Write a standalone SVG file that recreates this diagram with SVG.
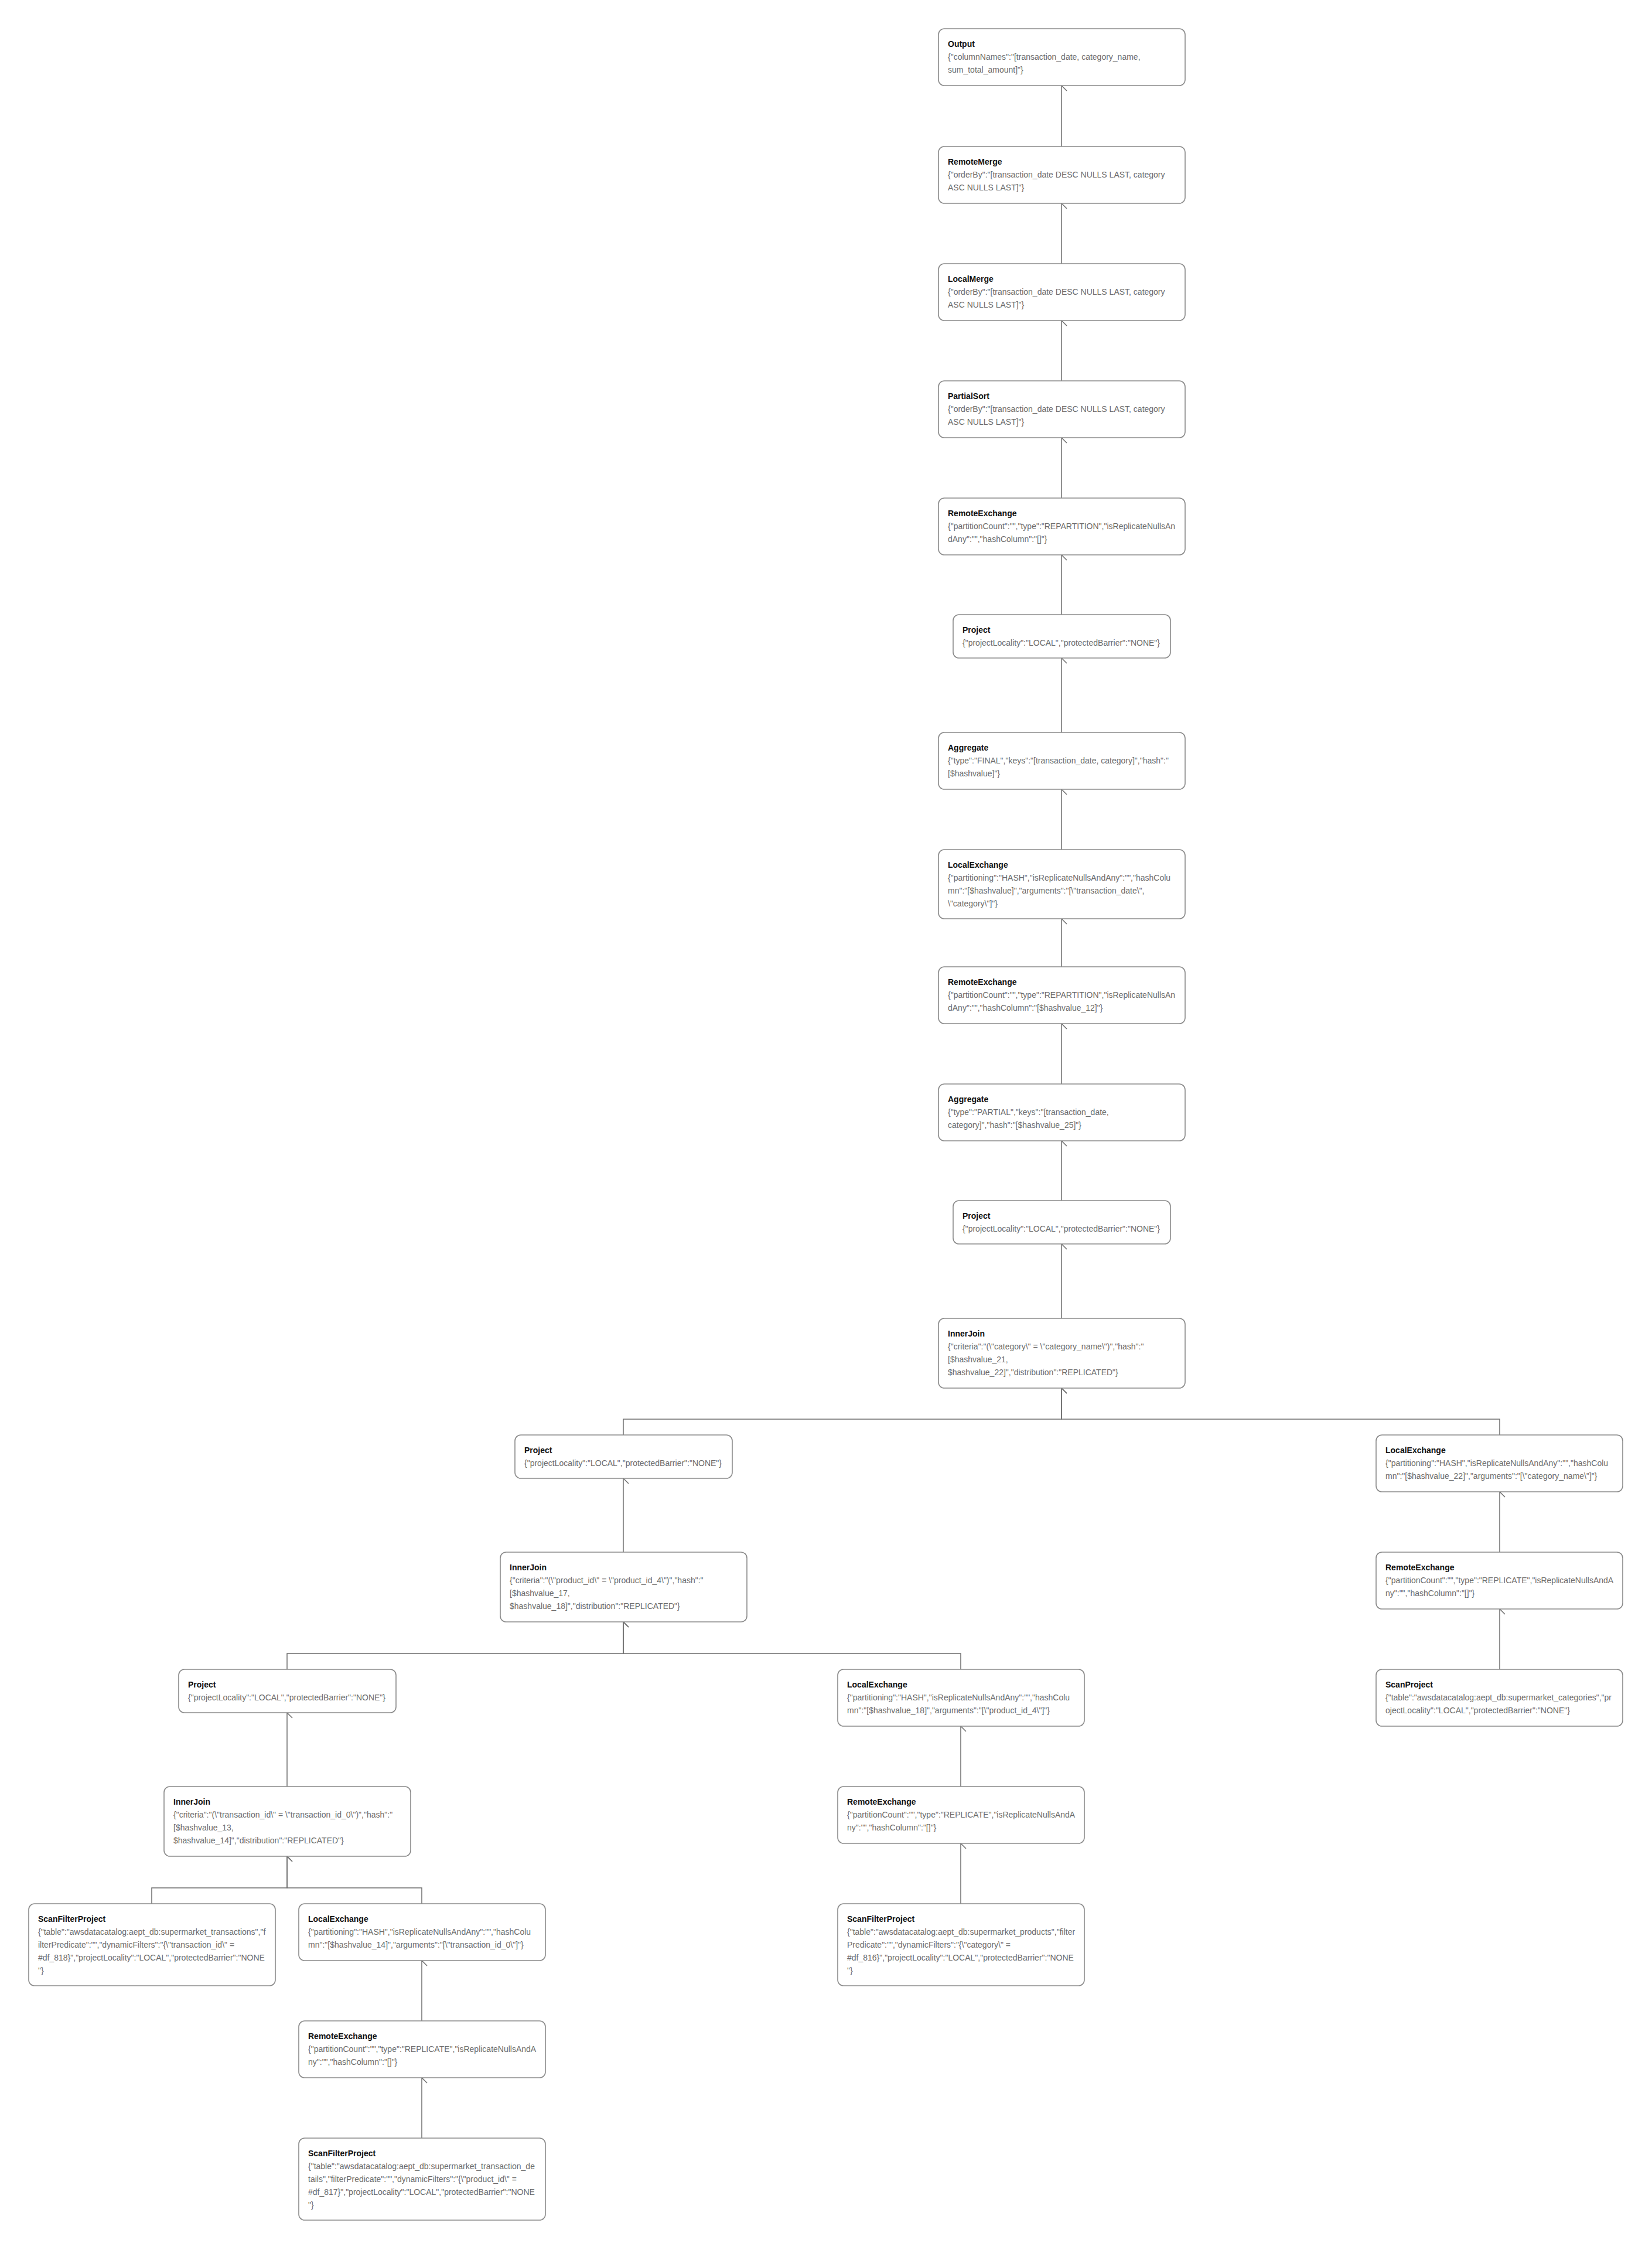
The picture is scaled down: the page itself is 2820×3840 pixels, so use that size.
<svg xmlns="http://www.w3.org/2000/svg" width="2820" height="3840" viewBox="0 0 2820 3840">
<style>
.box{fill:#fff;stroke:#8a8a8a;stroke-width:1.6}
.t{font-family:"Liberation Sans",Arial,sans-serif;font-size:14px;font-weight:bold;fill:#111}
.b{font-family:"Liberation Sans",Arial,sans-serif;font-size:14px;fill:#6b6b6b}
.e{fill:none;stroke:#6e6e6e;stroke-width:1.5}
</style>
<defs>
<marker id="ah" markerWidth="20" markerHeight="20" refX="10" refY="1" orient="auto" markerUnits="userSpaceOnUse" viewBox="0 0 20 20">
<path d="M1 10 L10 1 L19 10" fill="none" stroke="#6e6e6e" stroke-width="1.5"/>
</marker>
</defs>
<rect width="2820" height="3840" fill="#fff"/>
<g id="connectors" class="e" marker-end="url(#ah)">
<path d="M1812 250 V146" transform="rotate(0)"/>
<path d="M1812 450 V347"/>
<path d="M1812 650 V547"/>
<path d="M1812 850 V747"/>
<path d="M1812 1049 V947"/>
<path d="M1812 1250 V1123"/>
<path d="M1812 1450 V1347"/>
<path d="M1812 1650 V1568"/>
<path d="M1812 1850 V1747"/>
<path d="M1812 2049 V1947"/>
<path d="M1812 2250 V2123"/>
<path d="M1064 2449 V2422 H1812 V2369"/>
<path d="M2560 2449 V2422 H1812 V2369"/>
<path d="M1064 2649 V2523"/>
<path d="M2560 2649 V2546"/>
<path d="M2560 2849 V2746"/>
<path d="M490 2849 V2822 H1064 V2768"/>
<path d="M1640 2849 V2822 H1064 V2768"/>
<path d="M490 3049 V2923"/>
<path d="M1640 3049 V2946"/>
<path d="M259 3249 V3222 H490 V3168"/>
<path d="M720 3249 V3222 H490 V3168"/>
<path d="M1640 3249 V3146"/>
<path d="M720 3449 V3346"/>
<path d="M720 3649 V3546"/>
</g>
<g id="n0"><rect class="box" x="1602" y="49" width="421" height="97" rx="10"/><text class="t" x="1618" y="80">Output</text><text class="b" x="1618" y="102">{"columnNames":"[transaction_date, category_name,</text><text class="b" x="1618" y="124">sum_total_amount]"}</text></g>
<g id="n1"><rect class="box" x="1602" y="250" width="421" height="97" rx="10"/><text class="t" x="1618" y="281">RemoteMerge</text><text class="b" x="1618" y="303">{"orderBy":"[transaction_date DESC NULLS LAST, category</text><text class="b" x="1618" y="325">ASC NULLS LAST]"}</text></g>
<g id="n2"><rect class="box" x="1602" y="450" width="421" height="97" rx="10"/><text class="t" x="1618" y="481">LocalMerge</text><text class="b" x="1618" y="503">{"orderBy":"[transaction_date DESC NULLS LAST, category</text><text class="b" x="1618" y="525">ASC NULLS LAST]"}</text></g>
<g id="n3"><rect class="box" x="1602" y="650" width="421" height="97" rx="10"/><text class="t" x="1618" y="681">PartialSort</text><text class="b" x="1618" y="703">{"orderBy":"[transaction_date DESC NULLS LAST, category</text><text class="b" x="1618" y="725">ASC NULLS LAST]"}</text></g>
<g id="n4"><rect class="box" x="1602" y="850" width="421" height="97" rx="10"/><text class="t" x="1618" y="881">RemoteExchange</text><text class="b" x="1618" y="903">{"partitionCount":"","type":"REPARTITION","isReplicateNullsAn</text><text class="b" x="1618" y="925">dAny":"","hashColumn":"[]"}</text></g>
<g id="n5"><rect class="box" x="1627" y="1049" width="371" height="74" rx="10"/><text class="t" x="1643" y="1080">Project</text><text class="b" x="1643" y="1102">{"projectLocality":"LOCAL","protectedBarrier":"NONE"}</text></g>
<g id="n6"><rect class="box" x="1602" y="1250" width="421" height="97" rx="10"/><text class="t" x="1618" y="1281">Aggregate</text><text class="b" x="1618" y="1303">{"type":"FINAL","keys":"[transaction_date, category]","hash":"</text><text class="b" x="1618" y="1325">[$hashvalue]"}</text></g>
<g id="n7"><rect class="box" x="1602" y="1450" width="421" height="118" rx="10"/><text class="t" x="1618" y="1481">LocalExchange</text><text class="b" x="1618" y="1503">{"partitioning":"HASH","isReplicateNullsAndAny":"","hashColu</text><text class="b" x="1618" y="1525">mn":"[$hashvalue]","arguments":"[\"transaction_date\",</text><text class="b" x="1618" y="1547">\"category\"]"}</text></g>
<g id="n8"><rect class="box" x="1602" y="1650" width="421" height="97" rx="10"/><text class="t" x="1618" y="1681">RemoteExchange</text><text class="b" x="1618" y="1703">{"partitionCount":"","type":"REPARTITION","isReplicateNullsAn</text><text class="b" x="1618" y="1725">dAny":"","hashColumn":"[$hashvalue_12]"}</text></g>
<g id="n9"><rect class="box" x="1602" y="1850" width="421" height="97" rx="10"/><text class="t" x="1618" y="1881">Aggregate</text><text class="b" x="1618" y="1903">{"type":"PARTIAL","keys":"[transaction_date,</text><text class="b" x="1618" y="1925">category]","hash":"[$hashvalue_25]"}</text></g>
<g id="n10"><rect class="box" x="1627" y="2049" width="371" height="74" rx="10"/><text class="t" x="1643" y="2080">Project</text><text class="b" x="1643" y="2102">{"projectLocality":"LOCAL","protectedBarrier":"NONE"}</text></g>
<g id="n11"><rect class="box" x="1602" y="2250" width="421" height="119" rx="10"/><text class="t" x="1618" y="2281">InnerJoin</text><text class="b" x="1618" y="2303">{"criteria":"(\"category\" = \"category_name\")","hash":"</text><text class="b" x="1618" y="2325">[$hashvalue_21,</text><text class="b" x="1618" y="2347">$hashvalue_22]","distribution":"REPLICATED"}</text></g>
<g id="n12"><rect class="box" x="879" y="2449" width="371" height="74" rx="10"/><text class="t" x="895" y="2480">Project</text><text class="b" x="895" y="2502">{"projectLocality":"LOCAL","protectedBarrier":"NONE"}</text></g>
<g id="n13"><rect class="box" x="2349" y="2449" width="421" height="97" rx="10"/><text class="t" x="2365" y="2480">LocalExchange</text><text class="b" x="2365" y="2502">{"partitioning":"HASH","isReplicateNullsAndAny":"","hashColu</text><text class="b" x="2365" y="2524">mn":"[$hashvalue_22]","arguments":"[\"category_name\"]"}</text></g>
<g id="n14"><rect class="box" x="854" y="2649" width="421" height="119" rx="10"/><text class="t" x="870" y="2680">InnerJoin</text><text class="b" x="870" y="2702">{"criteria":"(\"product_id\" = \"product_id_4\")","hash":"</text><text class="b" x="870" y="2724">[$hashvalue_17,</text><text class="b" x="870" y="2746">$hashvalue_18]","distribution":"REPLICATED"}</text></g>
<g id="n15"><rect class="box" x="2349" y="2649" width="421" height="97" rx="10"/><text class="t" x="2365" y="2680">RemoteExchange</text><text class="b" x="2365" y="2702">{"partitionCount":"","type":"REPLICATE","isReplicateNullsAndA</text><text class="b" x="2365" y="2724">ny":"","hashColumn":"[]"}</text></g>
<g id="n16"><rect class="box" x="305" y="2849" width="371" height="74" rx="10"/><text class="t" x="321" y="2880">Project</text><text class="b" x="321" y="2902">{"projectLocality":"LOCAL","protectedBarrier":"NONE"}</text></g>
<g id="n17"><rect class="box" x="1430" y="2849" width="421" height="97" rx="10"/><text class="t" x="1446" y="2880">LocalExchange</text><text class="b" x="1446" y="2902">{"partitioning":"HASH","isReplicateNullsAndAny":"","hashColu</text><text class="b" x="1446" y="2924">mn":"[$hashvalue_18]","arguments":"[\"product_id_4\"]"}</text></g>
<g id="n18"><rect class="box" x="2349" y="2849" width="421" height="97" rx="10"/><text class="t" x="2365" y="2880">ScanProject</text><text class="b" x="2365" y="2902">{"table":"awsdatacatalog:aept_db:supermarket_categories","pr</text><text class="b" x="2365" y="2924">ojectLocality":"LOCAL","protectedBarrier":"NONE"}</text></g>
<g id="n19"><rect class="box" x="280" y="3049" width="421" height="119" rx="10"/><text class="t" x="296" y="3080">InnerJoin</text><text class="b" x="296" y="3102">{"criteria":"(\"transaction_id\" = \"transaction_id_0\")","hash":"</text><text class="b" x="296" y="3124">[$hashvalue_13,</text><text class="b" x="296" y="3146">$hashvalue_14]","distribution":"REPLICATED"}</text></g>
<g id="n20"><rect class="box" x="1430" y="3049" width="421" height="97" rx="10"/><text class="t" x="1446" y="3080">RemoteExchange</text><text class="b" x="1446" y="3102">{"partitionCount":"","type":"REPLICATE","isReplicateNullsAndA</text><text class="b" x="1446" y="3124">ny":"","hashColumn":"[]"}</text></g>
<g id="n21"><rect class="box" x="49" y="3249" width="421" height="140" rx="10"/><text class="t" x="65" y="3280">ScanFilterProject</text><text class="b" x="65" y="3302">{"table":"awsdatacatalog:aept_db:supermarket_transactions","f</text><text class="b" x="65" y="3324">ilterPredicate":"","dynamicFilters":"{\"transaction_id\" =</text><text class="b" x="65" y="3346">#df_818}","projectLocality":"LOCAL","protectedBarrier":"NONE</text><text class="b" x="65" y="3368">"}</text></g>
<g id="n22"><rect class="box" x="510" y="3249" width="421" height="97" rx="10"/><text class="t" x="526" y="3280">LocalExchange</text><text class="b" x="526" y="3302">{"partitioning":"HASH","isReplicateNullsAndAny":"","hashColu</text><text class="b" x="526" y="3324">mn":"[$hashvalue_14]","arguments":"[\"transaction_id_0\"]"}</text></g>
<g id="n23"><rect class="box" x="1430" y="3249" width="421" height="140" rx="10"/><text class="t" x="1446" y="3280">ScanFilterProject</text><text class="b" x="1446" y="3302">{"table":"awsdatacatalog:aept_db:supermarket_products","filter</text><text class="b" x="1446" y="3324">Predicate":"","dynamicFilters":"{\"category\" =</text><text class="b" x="1446" y="3346">#df_816}","projectLocality":"LOCAL","protectedBarrier":"NONE</text><text class="b" x="1446" y="3368">"}</text></g>
<g id="n24"><rect class="box" x="510" y="3449" width="421" height="97" rx="10"/><text class="t" x="526" y="3480">RemoteExchange</text><text class="b" x="526" y="3502">{"partitionCount":"","type":"REPLICATE","isReplicateNullsAndA</text><text class="b" x="526" y="3524">ny":"","hashColumn":"[]"}</text></g>
<g id="n25"><rect class="box" x="510" y="3649" width="421" height="140" rx="10"/><text class="t" x="526" y="3680">ScanFilterProject</text><text class="b" x="526" y="3702">{"table":"awsdatacatalog:aept_db:supermarket_transaction_de</text><text class="b" x="526" y="3724">tails","filterPredicate":"","dynamicFilters":"{\"product_id\" =</text><text class="b" x="526" y="3746">#df_817}","projectLocality":"LOCAL","protectedBarrier":"NONE</text><text class="b" x="526" y="3768">"}</text></g>
</svg>
